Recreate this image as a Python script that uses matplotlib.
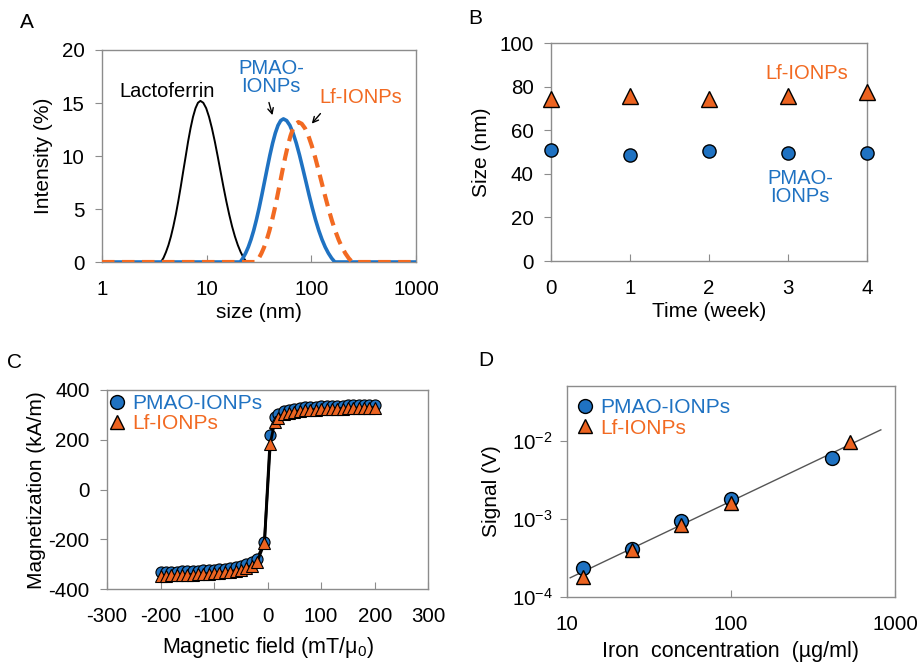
"""
Size distribution, stability, magnetization and MPS signal of IONPs
"""
import matplotlib
matplotlib.use('Agg')
import matplotlib.pyplot as plt
from matplotlib.lines import Line2D
from matplotlib.ticker import NullLocator
import numpy as np

# pylint: disable=invalid-name

plt.rcParams['font.family'] = ['Liberation Sans', 'DejaVu Sans']
plt.rcParams['mathtext.fontset'] = 'custom'
plt.rcParams['mathtext.rm'] = 'Liberation Sans'
plt.rcParams['mathtext.it'] = 'Liberation Sans'
plt.rcParams['mathtext.default'] = 'regular'
plt.rcParams['axes.unicode_minus'] = False

BLUE = '#1f72c2'
ORANGE = '#f26a22'
TRI = '#ec6320'
SPINE = '#8c8c8c'
FS = 14.8

# ---- panel A : DLS intensity distributions
lf_prot_size = [3.66, 3.87, 4.08, 4.31, 4.55, 4.80, 5.07, 5.35, 5.65, 5.96,
                6.30, 6.64, 7.01, 7.40, 7.82, 8.25, 8.71, 9.28, 9.89, 10.53,
                11.22, 11.96, 12.74, 13.57, 14.45, 15.40, 16.41, 17.48,
                18.62, 19.84, 21.13, 22.51, 23.99]
lf_prot_int = [0, 0.40, 0.93, 1.59, 2.40, 3.36, 4.48, 5.73, 7.10, 8.53,
               9.97, 11.36, 12.62, 13.69, 14.51, 15.02, 15.2, 15.02, 14.51,
               13.69, 12.62, 11.36, 9.97, 8.53, 7.10, 5.73, 4.48, 3.36, 2.40,
               1.59, 0.93, 0.40, 0]
pmao_size = [1, 20.90, 22.18, 23.54, 24.98, 26.51, 28.13, 29.85, 31.68,
             33.62, 35.68, 37.86, 40.18, 42.64, 45.25, 48.02, 50.96, 54.08,
             58.03, 62.30, 66.87, 71.78, 77.04, 82.69, 88.76, 95.19, 102.2,
             109.6, 117.7, 126.3, 135.6, 145.5, 156.2, 167.6, 1000]
pmao_int = [0, 0, 0.36, 0.83, 1.41, 2.13, 2.98, 3.98, 5.09, 6.31, 7.58,
            8.85, 10.09, 11.21, 12.16, 12.89, 13.34, 13.5, 13.34, 12.89,
            12.16, 11.21, 10.09, 8.85, 7.58, 6.31, 5.09, 3.98, 2.98, 2.13,
            1.41, 0.83, 0.36, 0, 0]
lfnp_size = [1, 29.65, 31.43, 33.31, 35.31, 37.41, 39.66, 42.03, 44.56,
             47.21, 50.04, 53.03, 56.21, 59.57, 63.15, 66.91, 70.92, 75.16,
             80.93, 87.14, 93.83, 101.0, 108.8, 117.1, 126.1, 135.8, 146.2,
             157.4, 169.5, 182.5, 196.5, 211.5, 227.8, 245.3, 1000]
lfnp_int = [0, 0, 0.35, 0.81, 1.38, 2.08, 2.92, 3.89, 4.98, 6.17, 7.41,
            8.66, 9.87, 10.96, 11.89, 12.60, 13.04, 13.2, 13.04, 12.60,
            11.89, 10.96, 9.87, 8.66, 7.41, 6.17, 4.98, 3.89, 2.92, 2.08,
            1.38, 0.81, 0.35, 0, 0]

# ---- panel B : size vs time
weeks = [0, 1, 2, 3, 4]
pmao_week = [51.2, 48.9, 50.6, 49.4, 49.4]
lf_week = [74.2, 75.8, 74.4, 75.8, 77.8]

# ---- panel C : magnetization curves
field = [-200, -190, -180, -170, -160, -150, -140, -130, -120, -110, -100,
         -90, -80, -70, -60, -50, -40, -30, -20, -6, 5, 13, 20, 30, 40, 50,
         60, 70, 80, 90, 100, 110, 120, 130, 140, 150, 160, 170, 180, 190, 200]
pmao_mag = [-330, -330, -329, -329, -328, -327, -326, -325, -324, -322, -321,
            -319, -317, -314, -310, -306, -300, -292, -280, -210, 218, 291,
            302, 314, 320, 325, 328, 330, 332, 333, 334, 335, 336, 337, 337,
            338, 339, 339, 340, 340, 341]
lf_mag = [-345, -345, -344, -344, -343, -342, -341, -340, -339, -337, -336,
          -334, -332, -329, -325, -321, -315, -306, -292, -215, 185, 270,
          288, 302, 308, 313, 316, 318, 320, 321, 322, 323, 324, 325, 325,
          326, 327, 327, 328, 328, 329]

# ---- panel D : signal vs iron concentration
pmao_conc = [12.5, 25, 50, 100, 415]
pmao_sig = [2.3e-4, 4.1e-4, 9.4e-4, 1.8e-3, 6.05e-3]
lf_conc = [12.5, 25, 50, 100, 530]
lf_sig = [1.8e-4, 4.0e-4, 8.4e-4, 1.6e-3, 9.5e-3]
fit_range = [10.5, 820]


def style(ax):
    for sp in ax.spines.values():
        sp.set_color(SPINE)
        sp.set_linewidth(1.0)
    ax.tick_params(axis='x', direction='in', length=5, color=SPINE,
                   labelsize=FS, pad=13)
    ax.tick_params(axis='y', direction='out', length=5, color=SPINE,
                   labelsize=FS, pad=7.5)


def legend_handles():
    return [Line2D([], [], ls='none', marker='o', ms=10, mfc=BLUE,
                   mec='black', mew=1.0),
            Line2D([], [], ls='none', marker='^', ms=10.5, mfc=TRI,
                   mec='black', mew=1.0)]


fig = plt.figure(figsize=(9.2, 6.64), dpi=100)
axA = fig.add_axes([0.1109, 0.6054, 0.3413, 0.3193])
axB = fig.add_axes([0.5989, 0.6069, 0.3435, 0.3279])
axC = fig.add_axes([0.1163, 0.1125, 0.3492, 0.3002])
axD = fig.add_axes([0.6160, 0.1014, 0.3568, 0.3173])

# A
axA.plot(lf_prot_size, lf_prot_int, color='black', lw=1.4, zorder=2)
axA.plot(pmao_size, pmao_int, color=BLUE, lw=2.6, zorder=3)
axA.plot(lfnp_size, lfnp_int, color=ORANGE, lw=3.0, ls=(0, (3, 1.8)),
         zorder=4)
axA.set_xscale('log')
axA.set_xlim(1, 1000)
axA.set_ylim(0, 20)
axA.set_xticks([1, 10, 100, 1000], labels=['1', '10', '100', '1000'])
axA.xaxis.set_minor_locator(NullLocator())
axA.set_yticks([0, 5, 10, 15, 20])
style(axA)
axA.set_xlabel('size (nm)', fontsize=15, labelpad=3)
axA.set_ylabel('Intensity (%)', fontsize=15, labelpad=6)
axA.text(4.2, 16.1, 'Lactoferrin', fontsize=14.5, ha='center',
         va='center', color='black')
axA.text(41.3, 17.4, 'PMAO-\nIONPs', fontsize=14.5, ha='center',
         va='center', color=BLUE, linespacing=0.95)
axA.text(298, 15.5, 'Lf-IONPs', fontsize=14.5, ha='center',
         va='center', color=ORANGE)
axA.annotate('', xy=(43.2, 13.6), xytext=(38.7, 15.3),
             arrowprops=dict(arrowstyle='->', color='black', lw=1.0))
axA.annotate('', xy=(97, 12.85), xytext=(127, 14.2),
             arrowprops=dict(arrowstyle='->', color='black', lw=1.0))

# B
axB.plot(weeks, lf_week, ls='none', marker='^', ms=11, mfc=TRI,
         mec='black', mew=1.0, clip_on=False, zorder=3)
axB.plot(weeks, pmao_week, ls='none', marker='o', ms=9.5, mfc=BLUE,
         mec='black', mew=1.0, clip_on=False, zorder=3)
axB.set_xlim(0, 4)
axB.set_ylim(0, 100)
axB.set_xticks(weeks)
axB.set_yticks([0, 20, 40, 60, 80, 100])
style(axB)
axB.set_xlabel('Time (week)', fontsize=15, labelpad=3)
axB.set_ylabel('Size (nm)', fontsize=15, labelpad=6)
axB.text(3.24, 85.9, 'Lf-IONPs', fontsize=14.5, ha='center',
         va='center', color=ORANGE)
axB.text(3.15, 33.9, 'PMAO-\nIONPs', fontsize=14.5, ha='center',
         va='center', color=BLUE, linespacing=0.95)

# C
axC.plot(field, pmao_mag, color='black', lw=2.0, marker='o', ms=8,
         mfc=BLUE, mec='black', mew=0.8, zorder=3)
axC.plot(field, lf_mag, color='black', lw=2.0, marker='^', ms=8.5,
         mfc=TRI, mec='black', mew=0.8, zorder=3)
axC.set_xlim(-300, 300)
axC.set_ylim(-400, 400)
axC.set_xticks(np.arange(-300, 301, 100))
axC.set_yticks(np.arange(-400, 401, 200))
style(axC)
axC.set_xlabel(r'Magnetic field (mT/μ$_0$)', fontsize=15.5, labelpad=6)
axC.set_ylabel('Magnetization (kA/m)', fontsize=15, labelpad=2)
axC.legend(legend_handles(), ['PMAO-IONPs', 'Lf-IONPs'], loc='upper left',
           frameon=False, fontsize=15, handlelength=0.6, handletextpad=0.4,
           labelspacing=0.05, borderaxespad=0.1, borderpad=0.1,
           labelcolor=[BLUE, ORANGE])

# D
all_conc = np.log10(pmao_conc + lf_conc)
all_sig = np.log10(pmao_sig + lf_sig)
slope, icpt = np.polyfit(all_conc, all_sig, 1)
fx = np.array(fit_range)
axD.plot(fx, 10 ** (icpt + slope * np.log10(fx)), color='#555555', lw=1.0,
         zorder=2)
axD.plot(pmao_conc, pmao_sig, ls='none', marker='o', ms=10, mfc=BLUE,
         mec='black', mew=1.0, zorder=3)
axD.plot(lf_conc, lf_sig, ls='none', marker='^', ms=10.5, mfc=TRI,
         mec='black', mew=1.0, zorder=4)
axD.set_xscale('log')
axD.set_yscale('log')
axD.set_xlim(10, 1000)
axD.set_ylim(1e-4, 5e-2)
axD.set_xticks([10, 100, 1000], labels=['10', '100', '1000'])
axD.set_yticks([1e-4, 1e-3, 1e-2],
               labels=['10$^{-4}$', '10$^{-3}$', '10$^{-2}$'])
axD.xaxis.set_minor_locator(NullLocator())
axD.yaxis.set_minor_locator(NullLocator())
style(axD)
axD.tick_params(axis='y', pad=5)
axD.set_xlabel('Iron  concentration  (µg/ml)', fontsize=15.5, labelpad=5)
axD.set_ylabel('Signal (V)', fontsize=15, labelpad=8)
axD.legend(legend_handles(), ['PMAO-IONPs', 'Lf-IONPs'], loc='upper left',
           frameon=False, fontsize=15, handlelength=0.6, handletextpad=0.4,
           labelspacing=0.05, borderaxespad=0.2, borderpad=0.4,
           labelcolor=[BLUE, ORANGE])

# panel letters
for lab, (px, py) in zip('ABCD', [(27, 23), (475, 18), (15, 363), (486, 361)]):
    fig.text(px / 920, 1 - py / 664, lab, fontsize=15, ha='center',
             va='center')

fig.savefig('out.png', dpi=100)
